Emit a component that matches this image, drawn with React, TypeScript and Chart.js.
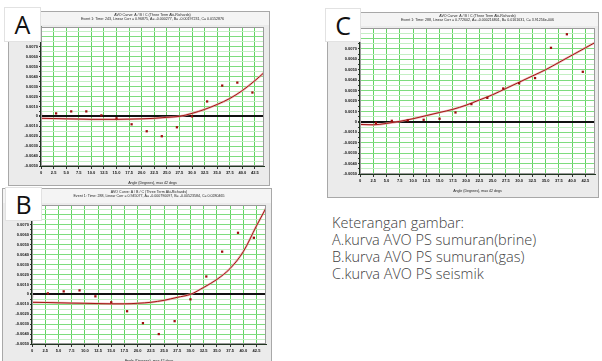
import React, { useEffect, useRef } from "react";
import { Chart, registerables } from "chart.js";

Chart.register(...registerables);

// ---------- data ----------
const angles = [0, 3, 6, 9, 12, 15, 18, 21, 24, 27, 30, 33, 36, 39, 42];
const brineA = [0.0002, 0.0003, 0.0005, 0.0005, 0.0001, -0.0002, -0.0008, -0.0015, -0.002, -0.0011, 0.0, 0.0015, 0.0031, 0.0034, 0.0024];
const gasB = [-0.0002, 0.0001, 0.0003, 0.0004, -0.0002, -0.0008, -0.0017, -0.0029, -0.004, -0.0027, -0.0005, 0.0018, 0.0043, 0.0062, 0.0057];
const seisC = [0.0, -0.0001, 0.0001, 0.00013, 0.0002, 0.0003, 0.0009, 0.0017, 0.0023, 0.0032, 0.0037, 0.0042, 0.0071, 0.0084, 0.0048];

const fitAngles = [0, 2.5, 5, 7.5, 10, 12.5, 15, 17.5, 20, 22.5, 25, 27.5, 30, 32.5, 35, 37.5, 40, 42.5, 44.3];
const fitA = [-0.0002, -0.00022, -0.00025, -0.00027, -0.0003, -0.0003, -0.0003, -0.00028, -0.00025, -0.0002, -0.0001, 0.0, 0.0003, 0.0007, 0.0012, 0.0018, 0.0026, 0.0036, 0.0044];
const fitB = [-0.0008, -0.00082, -0.00085, -0.00088, -0.0009, -0.00093, -0.00095, -0.00095, -0.0009, -0.0008, -0.0006, -0.0003, 0.0, 0.0007, 0.0015, 0.0026, 0.0043, 0.0069, 0.0087];
const fitC = [-0.00025, -0.00028, -0.00015, 0.00005, 0.0003, 0.0006, 0.0009, 0.0012, 0.0016, 0.0021, 0.0026, 0.0032, 0.0038, 0.0044, 0.005, 0.0057, 0.0064, 0.0071, 0.0076];

const xTickLabels = ["0", "2.5", "5.0", "7.5", "10.0", "12.5", "15.0", "17.5", "20.0", "22.5", "25.0", "27.5", "30.0", "32.5", "35.0", "37.5", "40.0", "42.5"];
const yTickLabels = ["0.0090", "0.0080", "0.0070", "0.0060", "0.0050", "0.0040", "0.0030", "0.0020", "0.0010", "0", "-0.0010", "-0.0020", "-0.0030", "-0.0040", "-0.0050"];

const titleLine1A = "AVO Curve: A / B / C (Three Term Aki-Richards)";
const titleLine2A = "Event 1: Time: 243, Linear Corr = 0.96875, A= -0.000277, B= -0.00197231, C= 0.0152876";
const titleLine1B = "AVO Curve: A / B / C (Three Term Aki-Richards)";
const titleLine2B = "Event 1: Time: 288, Linear Corr = 0.945077, A= -0.000790097, B= -0.00523584, C= 0.0280465";
const titleLine1C = "AVO Curve: A / B / C (Three Term Aki-Richards)";
const titleLine2C = "Event 1: Time: 288, Linear Corr = 0.772602, A= -0.000216801, B= 0.0161631, C= 3.91256e-006";
const xAxisTitle = "Angle (Degrees), max 42 degs";

const legendLines = [
  "Keterangan gambar:",
  "A.kurva AVO PS sumuran(brine)",
  "B.kurva AVO PS sumuran(gas)",
  "C.kurva AVO PS seismik",
];

const X_MAX = 44.3;
const Y_MIN = -0.005;
const Y_MAX = 0.009;

const xTickValues = xTickLabels.map((s) => parseFloat(s));
const yMajorValues = yTickLabels.map((s) => parseFloat(s));
const yAllValues: number[] = [];
yMajorValues.forEach((v, i) => {
  yAllValues.push(v);
  if (i < yMajorValues.length - 1) yAllValues.push((v + yMajorValues[i + 1]) / 2);
});
const key = (v: number) => Math.round(v * 1e5);
const yLabelMap = new Map<number, string>();
yTickLabels.forEach((s) => yLabelMap.set(key(parseFloat(s)), s));

type PanelProps = {
  left: number;
  top: number;
  width: number;
  height: number;
  plotLeft: number;
  plotTop: number;
  plotRight: number;
  plotBottom: number;
  points: number[];
  fit: number[];
  t1: string;
  t2: string;
};

function Panel(p: PanelProps) {
  const ref = useRef<HTMLCanvasElement | null>(null);
  useEffect(() => {
    const cv = ref.current!;
    const padTop = p.plotTop - p.top;
    const padRight = p.left + p.width - p.plotRight;
    const yW = p.plotLeft - p.left;
    const xH = p.top + p.height - p.plotBottom;
    const frame = {
      id: "frame",
      beforeDraw(chart: any) {
        const { ctx, chartArea: a } = chart;
        ctx.save();
        ctx.fillStyle = "#ebebeb";
        ctx.fillRect(0, 0, p.width, p.height);
        ctx.fillStyle = "#f4f4f4";
        ctx.fillRect(1, 1, p.width - 2, padTop - 3);
        ctx.strokeStyle = "#a8a8a8";
        ctx.lineWidth = 1;
        ctx.strokeRect(0.5, 0.5, p.width - 1, p.height - 1);
        ctx.fillStyle = "#ffffff";
        ctx.fillRect(a.left, a.top, a.right - a.left, a.bottom - a.top);
        ctx.restore();
      },
      afterDraw(chart: any) {
        const { ctx, chartArea: a } = chart;
        ctx.save();
        ctx.strokeStyle = "#9a9a9a";
        ctx.lineWidth = 1;
        ctx.strokeRect(a.left + 0.5, a.top + 0.5, a.right - a.left - 1, a.bottom - a.top - 1);
        ctx.fillStyle = "#222";
        ctx.textAlign = "center";
        ctx.textBaseline = "middle";
        const cx = (a.left + a.right) / 2;
        ctx.font = "3.6px 'Liberation Sans', Arial";
        ctx.fillText(p.t1, cx, 3.5);
        ctx.fillText(p.t2, cx, 7.5);
        ctx.fillText(xAxisTitle, cx, a.bottom + 17);
        ctx.restore();
      },
    };
    const chart = new Chart(cv, {
      type: "scatter",
      data: {
        datasets: [
          {
            type: "line",
            data: fitAngles.map((x, i) => ({ x, y: p.fit[i] })),
            borderColor: "rgba(232,160,160,0.75)",
            borderWidth: 2.2,
            pointRadius: 0,
            cubicInterpolationMode: "monotone",
            fill: false,
            order: 3,
          } as any,
          {
            type: "line",
            data: fitAngles.map((x, i) => ({ x, y: p.fit[i] })),
            borderColor: "#a31515",
            borderWidth: 1,
            pointRadius: 0,
            cubicInterpolationMode: "monotone",
            fill: false,
            order: 2,
          } as any,
          {
            type: "scatter",
            data: angles.map((x, i) => ({ x, y: p.points[i] })),
            backgroundColor: "#9e0c0c",
            borderColor: "#9e0c0c",
            pointStyle: "rect",
            pointRadius: 1.6,
            borderWidth: 0,
            order: 1,
          } as any,
        ],
      },
      options: {
        animation: false,
        responsive: false,
        devicePixelRatio: 1,
        layout: { padding: { top: padTop, right: padRight, left: 0, bottom: 0 } },
        plugins: { legend: { display: false }, tooltip: { enabled: false }, title: { display: false } },
        scales: {
          x: {
            type: "linear",
            min: 0,
            max: X_MAX,
            afterBuildTicks: (s: any) => {
              s.ticks = xTickValues.map((v) => ({ value: v }));
            },
            afterFit: (s: any) => {
              s.height = xH;
            },
            ticks: {
              autoSkip: false,
              maxRotation: 0,
              padding: 1,
              color: "#111",
              font: { size: 4, weight: "bold", family: "'Liberation Sans', Arial" },
              callback: (v: any) => {
                const i = xTickValues.findIndex((t) => Math.abs(t - v) < 1e-6);
                return i >= 0 ? xTickLabels[i] : "";
              },
            },
            grid: {
              color: (c: any) => (c.tick && c.tick.value === 0 ? "#1d3b1d" : "#62d462"),
              lineWidth: 1,
              tickLength: 3,
              tickColor: "#333",
            },
            border: { display: true, color: "#203520", width: 1 },
          },
          y: {
            type: "linear",
            min: Y_MIN,
            max: Y_MAX,
            afterBuildTicks: (s: any) => {
              s.ticks = yAllValues.map((v) => ({ value: v }));
            },
            afterFit: (s: any) => {
              s.width = yW;
            },
            ticks: {
              autoSkip: false,
              padding: 1,
              color: "#111",
              font: { size: 4, weight: "bold", family: "'Liberation Sans', Arial" },
              callback: (v: any) => yLabelMap.get(key(v)) ?? "",
            },
            grid: {
              color: (c: any) => {
                const v = c.tick ? c.tick.value : 1;
                if (Math.abs(v) < 1e-9) return "#111111";
                return yLabelMap.has(key(v)) ? "#7edc7e" : "#c4efc4";
              },
              lineWidth: (c: any) => (c.tick && Math.abs(c.tick.value) < 1e-9 ? 2 : 1),
              tickLength: 2,
              tickColor: "#333",
            },
            border: { display: true, color: "#203520", width: 1.5 },
          },
        },
      },
      plugins: [frame],
    } as any);
    return () => chart.destroy();
  }, []);
  return (
    <canvas
      ref={ref}
      width={p.width}
      height={p.height}
      style={{ position: "absolute", left: p.left, top: p.top, width: p.width, height: p.height }}
    />
  );
}

function LetterBox(props: { x: number; y: number; w: number; h: number; letter: string }) {
  return (
    <div
      style={{
        position: "absolute",
        left: props.x,
        top: props.y,
        width: props.w,
        height: props.h,
        background: "#ffffff",
        border: "1px solid #e2e2e2",
        boxSizing: "border-box",
        display: "flex",
        alignItems: "center",
        justifyContent: "center",
        fontFamily: "'Open Sans', 'Noto Sans', sans-serif",
        fontSize: 25,
        color: "#111",
        lineHeight: 1,
      }}
    >
      {props.letter}
    </div>
  );
}

export default function App() {
  return (
    <div
      style={{
        position: "fixed",
        left: 0,
        top: 0,
        width: 602,
        height: 361,
        overflow: "hidden",
        background: "#ffffff",
      }}
    >
      <Panel left={8} top={11} width={262} height={175} plotLeft={41} plotTop={27} plotRight={264} plotBottom={166} points={brineA} fit={fitA} t1={titleLine1A} t2={titleLine2A} />
      <Panel left={2} top={188} width={270} height={180} plotLeft={32} plotTop={205} plotRight={266} plotBottom={344} points={gasB} fit={fitB} t1={titleLine1B} t2={titleLine2B} />
      <Panel left={327} top={12} width={272} height={186} plotLeft={360} plotTop={28} plotRight={596} plotBottom={174} points={seisC} fit={fitC} t1={titleLine1C} t2={titleLine2C} />
      <LetterBox x={4} y={7} w={37} h={35} letter="A" />
      <LetterBox x={5} y={187} w={37} h={34} letter="B" />
      <LetterBox x={325} y={8} w={36} h={34} letter="C" />
      <div
        style={{
          position: "absolute",
          left: 332,
          top: 214,
          fontFamily: "'Open Sans', 'Noto Sans', sans-serif",
          fontWeight: 300,
          fontSize: 14.5,
          lineHeight: "17px",
          color: "#404040",
          whiteSpace: "nowrap",
        }}
      >
        {legendLines.map((l) => (
          <div key={l}>{l}</div>
        ))}
      </div>
    </div>
  );
}
